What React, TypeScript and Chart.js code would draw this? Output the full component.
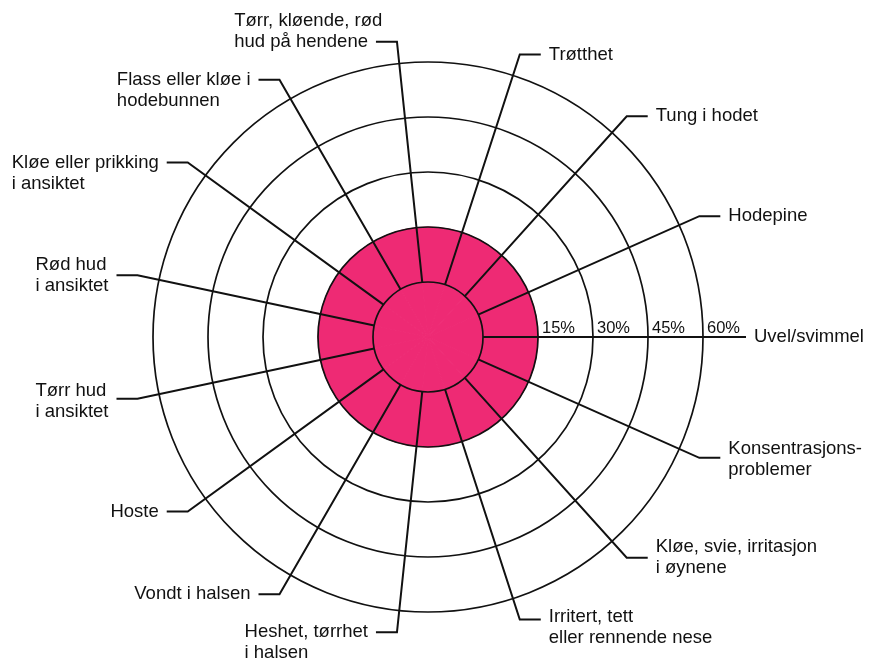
import React, { useEffect, useRef } from "react";
import { Chart, registerables } from "chart.js";

Chart.register(...registerables);

// ---- data ----
const CATEGORIES: string[][] = [
  ["Uvel/svimmel"],
  ["Konsentrasjons-", "problemer"],
  ["Kløe, svie, irritasjon", "i øynene"],
  ["Irritert, tett", "eller rennende nese"],
  ["Heshet, tørrhet", "i halsen"],
  ["Vondt i halsen"],
  ["Hoste"],
  ["Tørr hud", "i ansiktet"],
  ["Rød hud", "i ansiktet"],
  ["Kløe eller prikking", "i ansiktet"],
  ["Flass eller kløe i", "hodebunnen"],
  ["Tørr, kløende, rød", "hud på hendene"],
  ["Trøtthet"],
  ["Tung i hodet"],
  ["Hodepine"],
];
const VALUES: number[] = [15, 15, 15, 15, 15, 15, 15, 15, 15, 15, 15, 15, 15, 15, 15];
const TICK_VALUES: number[] = [15, 30, 45, 60];
const TICK_LABELS: string[] = ["15%", "30%", "45%", "60%"];

// ---- layout / style ----
// which text line the leader line points at (fractions = between lines)
const LABEL_ATTACH: number[] = [0, 0.4, 0.5, 0.1, 0, 0, 0, 0.35, 0.5, 0, 0, 1, 0, 0, 0];
const SCALE_MIN = -15;
const SCALE_MAX = 60;
const SPOKE_END_VALUE = 66;
const LEADER_LEN = 21;
const TEXT_GAP = 8;
const LINE_H = 21;
const INK = "#111111";
const PINK = "rgb(238, 42, 116)";
const LABEL_FONT = "18.5px 'Liberation Sans', Arial, sans-serif";
const TICK_FONT = "16.5px 'Liberation Sans', Arial, sans-serif";

const decorPlugin = {
  id: "decor",
  afterDraw(chart: any) {
    const scale = chart.scales.r;
    const ctx: CanvasRenderingContext2D = chart.ctx;
    ctx.save();
    ctx.strokeStyle = INK;
    ctx.fillStyle = INK;
    ctx.lineWidth = 2;
    ctx.lineCap = "butt";
    ctx.lineJoin = "miter";
    const r0 = scale.getDistanceFromCenterForValue(0);
    const rEnd = scale.getDistanceFromCenterForValue(SPOKE_END_VALUE);
    ctx.font = LABEL_FONT;
    CATEGORIES.forEach((lines, i) => {
      const a = scale.getIndexAngle(i) - Math.PI / 2;
      const p0 = scale.getPointPosition(i, r0);
      const p1 = scale.getPointPosition(i, rEnd);
      const dir = Math.cos(a) >= 0 ? 1 : -1;
      const x2 = p1.x + dir * LEADER_LEN;
      ctx.beginPath();
      ctx.moveTo(p0.x, p0.y);
      ctx.lineTo(p1.x, p1.y);
      ctx.lineTo(x2, p1.y);
      ctx.stroke();

      const attach = LABEL_ATTACH[i];
      ctx.textBaseline = "middle";
      ctx.textAlign = "left";
      let left: number;
      if (dir > 0) {
        left = x2 + TEXT_GAP;
      } else {
        let w: number;
        if (Number.isInteger(attach)) {
          w = ctx.measureText(lines[attach]).width;
        } else {
          w = Math.max(...lines.map((l) => ctx.measureText(l).width));
        }
        left = x2 - TEXT_GAP - w;
      }
      lines.forEach((l, k) => {
        ctx.fillText(l, left, p1.y + (k - attach) * LINE_H);
      });
    });

    // percent tick labels along the horizontal spoke
    ctx.font = TICK_FONT;
    ctx.textAlign = "left";
    ctx.textBaseline = "alphabetic";
    TICK_VALUES.forEach((v, k) => {
      const d = scale.getDistanceFromCenterForValue(v);
      ctx.fillText(TICK_LABELS[k], scale.xCenter + d + 4, scale.yCenter - 4);
    });
    ctx.restore();
  },
};

export default function App() {
  const ref = useRef<HTMLCanvasElement>(null);
  useEffect(() => {
    const canvas = ref.current!;
    const chart = new Chart(canvas, {
      type: "polarArea",
      data: {
        labels: CATEGORIES.map((l) => l.join(" ")),
        datasets: [
          {
            data: VALUES,
            backgroundColor: PINK,
            borderColor: PINK,
            borderWidth: 1,
          },
        ],
      },
      options: {
        responsive: false,
        animation: false,
        devicePixelRatio: 1,
        layout: { padding: { left: 153, right: 169, top: 62, bottom: 52 } },
        plugins: {
          legend: { display: false },
          tooltip: { enabled: false },
        },
        scales: {
          r: {
            min: SCALE_MIN,
            max: SCALE_MAX,
            startAngle: 90,
            ticks: { display: false, stepSize: 15 },
            grid: {
              circular: true,
              z: 1,
              color: INK,
              lineWidth: (c: any) => (c.tick && c.tick.value < 0 ? 0 : 1.7),
            },
            angleLines: { display: false },
            pointLabels: { display: false },
          },
        },
      } as any,
      plugins: [decorPlugin],
    });
    return () => chart.destroy();
  }, []);
  return (
    <div
      style={{
        position: "fixed",
        left: 0,
        top: 0,
        width: 872,
        height: 664,
        background: "#fff",
      }}
    >
      <canvas ref={ref} width={872} height={664} style={{ display: "block" }} />
    </div>
  );
}
